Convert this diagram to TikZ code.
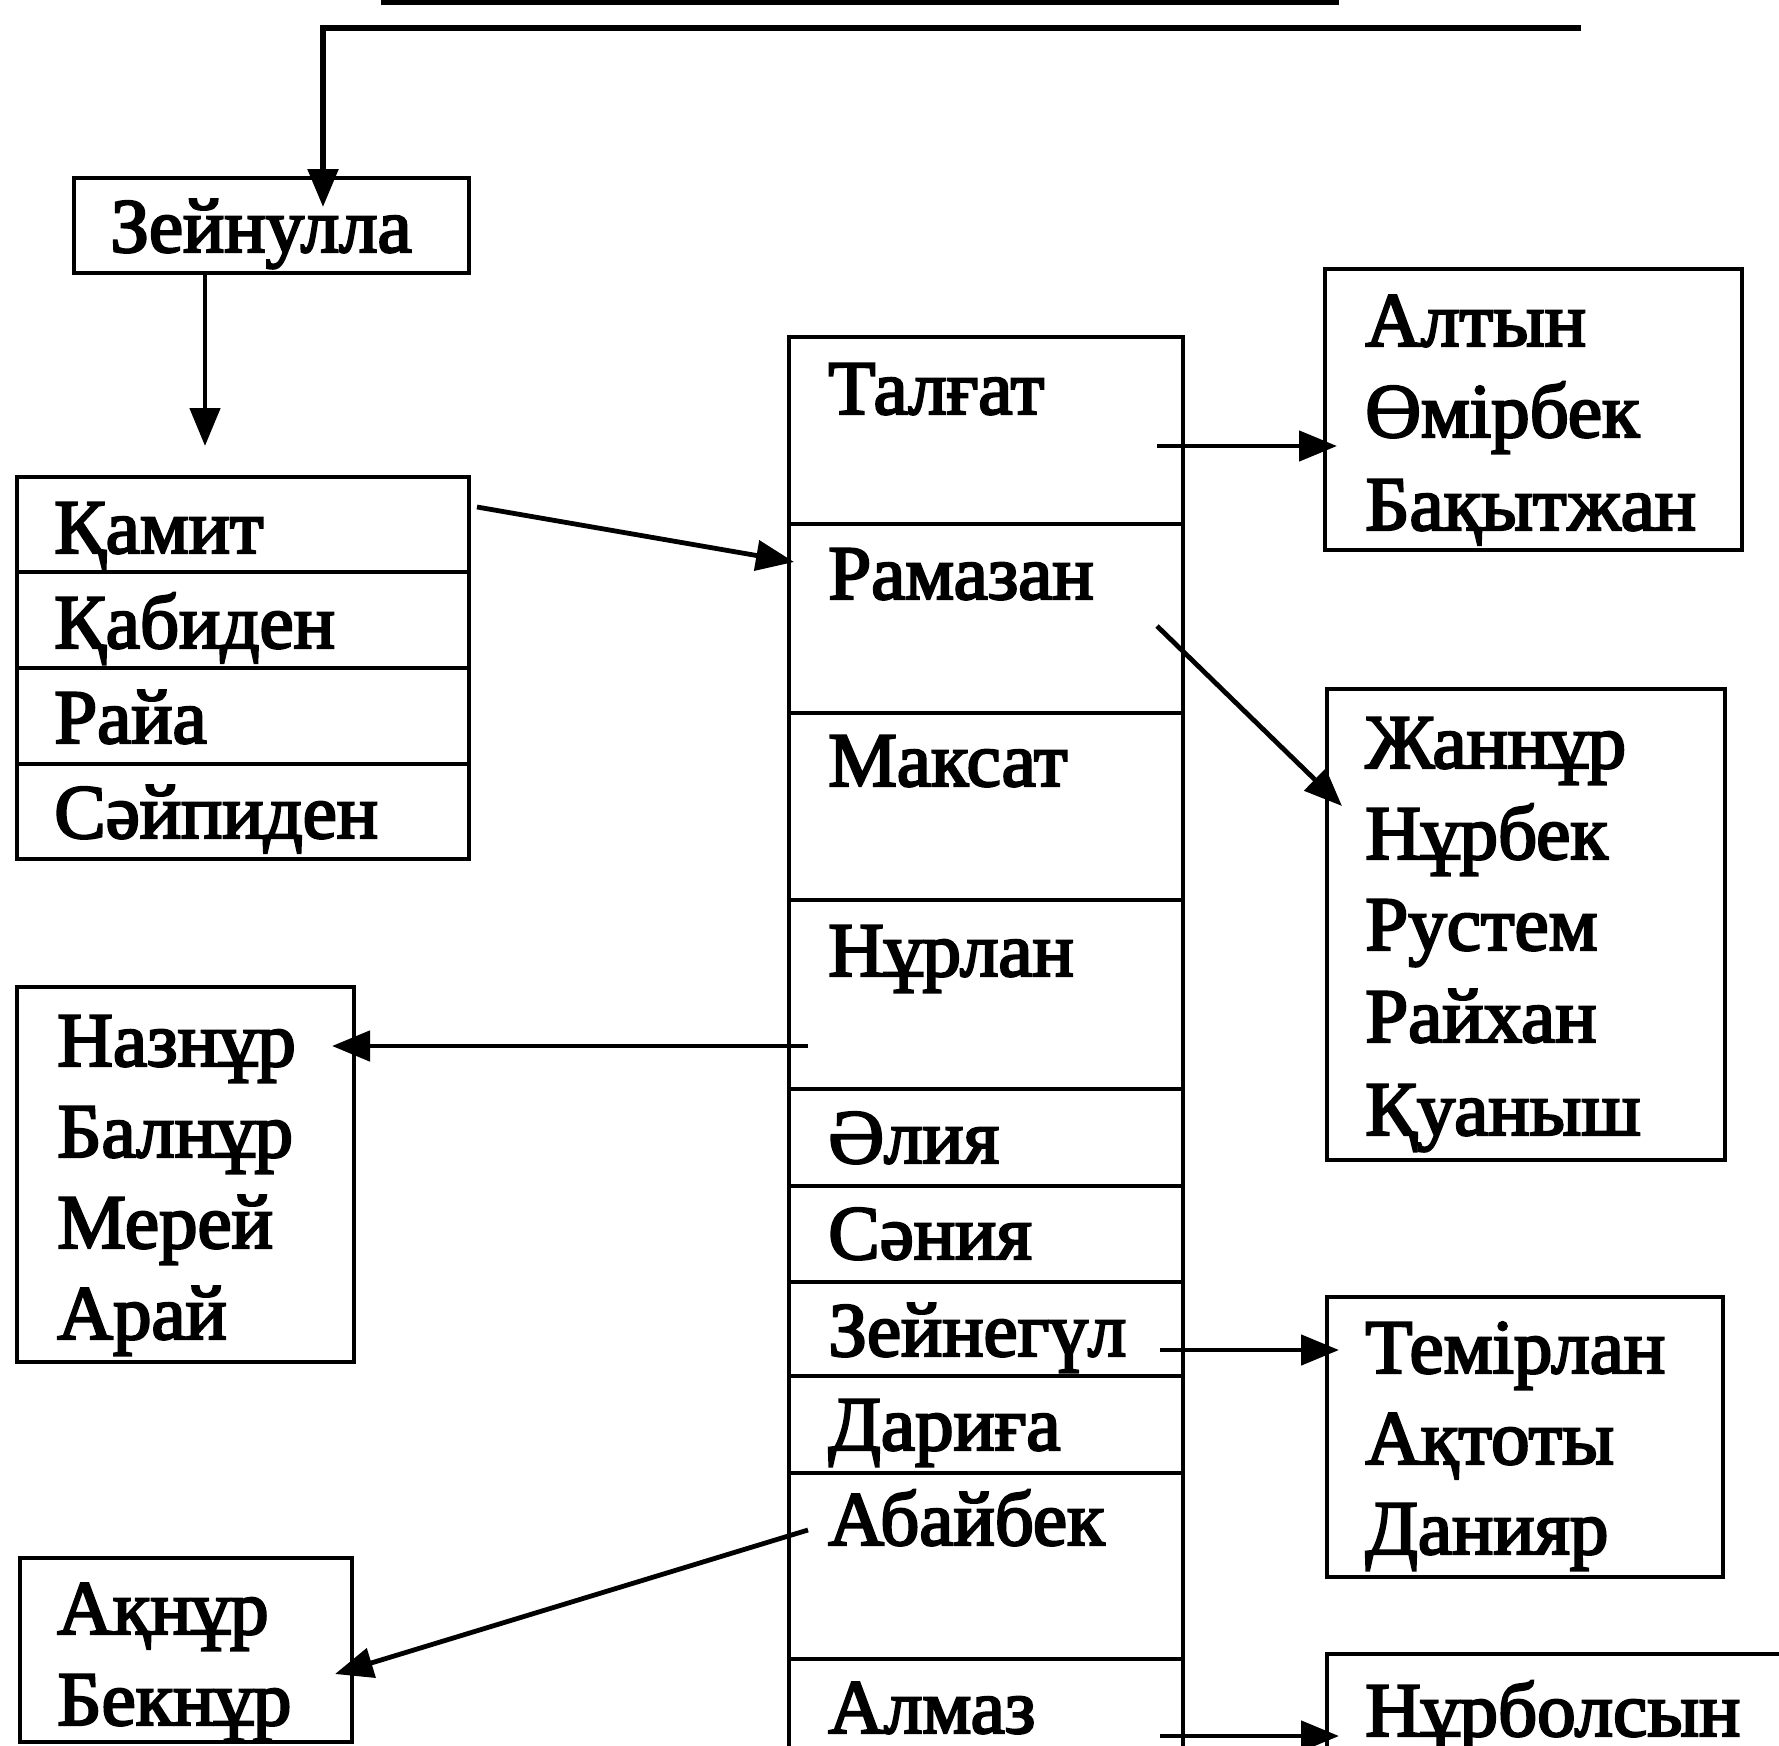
\documentclass[tikz,border=0pt]{standalone}
\usepackage{fontspec}
\newfontfamily\namefont{Liberation Serif}[FakeBold=3]
\usetikzlibrary{arrows.meta,fit}
\tikzset{
  box/.style={draw, line width=1.8pt, inner sep=0pt},
  nm/.style={anchor=base west, inner sep=0pt, font=\namefont\fontsize{38.5pt}{46pt}\selectfont},
  arr/.style={line width=2.4pt, -{Triangle[length=19pt,width=15pt]}},
}
\begin{document}
\begin{tikzpicture}[x=0.5pt,y=-0.5pt]
\clip (0,0) rectangle (1779,1746);
\fill[white] (0,0) rectangle (1779,1746);
% cut-off text at the top edge
\fill[black] (381,0) rectangle (1339,5);
% boxes
\node[box, fit={(74,178) (469,273)}] (zein) {};
\node[box, fit={(17,477) (469,572)}] (c1) {};
\node[box, fit={(17,572) (469,668)}] (c2) {};
\node[box, fit={(17,668) (469,764)}] (c3) {};
\node[box, fit={(17,764) (469,859)}] (c4) {};
\node[box, fit={(789,337) (1183,524)}] (m1) {};
\node[box, fit={(789,524) (1183,713)}] (m2) {};
\node[box, fit={(789,713) (1183,900)}] (m3) {};
\node[box, fit={(789,900) (1183,1089)}] (m4) {};
\node[box, fit={(789,1089) (1183,1186)}] (m5) {};
\node[box, fit={(789,1186) (1183,1282)}] (m6) {};
\node[box, fit={(789,1282) (1183,1376)}] (m7) {};
\node[box, fit={(789,1376) (1183,1473)}] (m8) {};
\node[box, fit={(789,1473) (1183,1659)}] (m9) {};
\node[box, fit={(789,1659) (1183,1790)}] (m10) {};
\node[box, fit={(1325,269) (1742,550)}] (altyn) {};
\node[box, fit={(1327,689) (1725,1160)}] (zhan) {};
\node[box, fit={(1327,1297) (1723,1577)}] (temir) {};
\node[box, fit={(1327,1654) (1820,1800)}] (nurbol) {};
\node[box, fit={(17,987) (354,1362)}] (naz) {};
\node[box, fit={(20,1558) (352,1742)}] (akn) {};
% texts
\node[nm] (tzein) at (110,252) {Зейнулла};
\node[nm] (t1) at (54,553) {Қамит};
\node[nm] (t2) at (54,648) {Қабиден};
\node[nm] (t3) at (54,743) {Райа};
\node[nm] (t4) at (54,838) {Сәйпиден};
\node[nm] (tm1) at (828,414) {Талғат};
\node[nm] (tm2) at (828,599) {Рамазан};
\node[nm] (tm3) at (828,786) {Максат};
\node[nm] (tm4) at (828,976) {Нұрлан};
\node[nm] (tm5) at (828,1163) {Әлия};
\node[nm] (tm6) at (828,1259) {Сәния};
\node[nm] (tm7) at (828,1356) {Зейнегүл};
\node[nm] (tm8) at (828,1450) {Дариға};
\node[nm] (tm9) at (828,1545) {Абайбек};
\node[nm] (tm10) at (828,1733) {Алмаз};
\node[nm] (ta1) at (1365,346) {Алтын};
\node[nm] (ta2) at (1365,437) {Өмірбек};
\node[nm] (ta3) at (1365,530) {Бақытжан};
\node[nm] (tz1) at (1365,768) {Жаннұр};
\node[nm] (tz2) at (1365,859) {Нұрбек};
\node[nm] (tz3) at (1365,950) {Рустем};
\node[nm] (tz4) at (1365,1042) {Райхан};
\node[nm] (tz5) at (1365,1135) {Қуаныш};
\node[nm] (tt1) at (1365,1373) {Темірлан};
\node[nm] (tt2) at (1365,1464) {Ақтоты};
\node[nm] (tt3) at (1365,1554) {Данияр};
\node[nm] (tn1) at (1365,1736) {Нұрболсын};
\node[nm] (tl1) at (57,1066) {Назнұр};
\node[nm] (tl2) at (57,1157) {Балнұр};
\node[nm] (tl3) at (57,1248) {Мерей};
\node[nm] (tl4) at (57,1339) {Арай};
\node[nm] (tk1) at (57,1634) {Ақнұр};
\node[nm] (tk2) at (57,1725) {Бекнұр};
% connector end points
\coordinate (topR) at (1581,28);
\coordinate (zeinIn) at (323,207);
\coordinate (zeinOut) at (205,273);
\coordinate (kamitIn) at (205,446);
\coordinate (c1Out) at (477,507);
\coordinate (m2In) at (794,562);
\coordinate (m1Out) at (1157,446);
\coordinate (altynIn) at (1337,446);
\coordinate (m2Out) at (1157,626);
\coordinate (zhanIn) at (1342,806);
\coordinate (m4Out) at (808,1046);
\coordinate (nazIn) at (332,1046);
\coordinate (m7Out) at (1160,1350);
\coordinate (temirIn) at (1339,1350);
\coordinate (m9Out) at (808,1530);
\coordinate (aknIn) at (335,1674);
\coordinate (m10Out) at (1160,1736);
\coordinate (nurbolIn) at (1339,1736);
% connectors
\draw[arr, line width=2.8pt] (topR) -| (zeinIn);
\draw[arr] (zeinOut) -- (kamitIn);
\draw[arr] (c1Out) -- (m2In);
\draw[arr] (m1Out) -- (altynIn);
\draw[arr] (m2Out) -- (zhanIn);
\draw[arr] (m4Out) -- (nazIn);
\draw[arr] (m7Out) -- (temirIn);
\draw[arr] (m9Out) -- (aknIn);
\draw[arr] (m10Out) -- (nurbolIn);
\end{tikzpicture}
\end{document}
